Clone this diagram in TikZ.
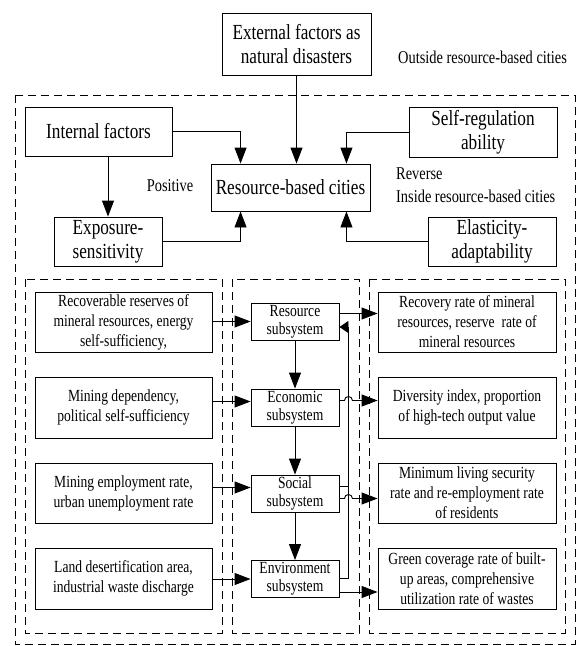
\documentclass[tikz,border=0pt]{standalone}
\usepackage{fontspec}
\setmainfont{Liberation Serif}[FakeStretch=0.8]
\usetikzlibrary{arrows.meta,calc}
\newcommand\myBig{\fontsize{21.5}{24}\selectfont}
\newcommand\mySmall{\fontsize{17}{20}\selectfont}
\newcommand\myMid{\fontsize{17}{18}\selectfont}
\newcommand\myLab{\fontsize{18}{20}\selectfont}
\begin{document}
\begin{tikzpicture}[x=1pt,y=-1pt,
  box/.style={draw, line width=0.9pt, inner sep=0pt, align=center},
  bigbox/.style={box, font=\myBig},
  sbox/.style={box, font=\mySmall, minimum width=177pt},
  rbox/.style={box, font=\mySmall, minimum width=178pt},
  mbox/.style={box, font=\myMid, minimum width=88pt, minimum height=37pt},
  arr/.style={line width=0.9pt, -{Triangle[length=16pt,width=12pt]}},
  fbarr/.style={line width=0.9pt, -{Triangle[length=9pt,width=12pt]}},
  ln/.style={line width=0.9pt},
  dbox/.style={draw, line width=0.9pt, dash pattern=on 8pt off 5pt},
  lab/.style={font=\myLab, inner sep=0pt}
]
\useasboundingbox (0,0) rectangle (578,646);

% dashed frames
\draw[dbox] (15,95) rectangle (575,644);
\draw[dbox] (25,279) rectangle (222,633);
\draw[dbox] (232,279) rectangle (359,633);
\draw[dbox] (369,279) rectangle (565,633);

% top part
\node[bigbox, minimum width=149pt, minimum height=62pt] (ext) at (296.5,44) {External factors as\\natural disasters};
\node[bigbox, minimum width=147pt, minimum height=49pt] (intf) at (98.5,131.5) {Internal factors};
\node[bigbox, minimum width=148pt, minimum height=50pt] (selfr) at (483,132) {Self-regulation\\ability};
\node[bigbox, minimum width=159pt, minimum height=47pt] (rbc) at (290.5,187.5) {Resource-based cities};
\node[bigbox, minimum width=108pt, minimum height=49pt] (expo) at (108,241.5) {Exposure-\\sensitivity};
\node[bigbox, minimum width=128pt, minimum height=49pt] (elas) at (492,241.5) {Elasticity-\\adaptability};

\node[lab] (pos) at (170,186) {Positive};
\node[lab, anchor=west] (rev) at (396,174) {Reverse};
\node[lab, anchor=west] (ins) at (396,196) {Inside resource-based cities};
\node[lab, anchor=west] (out) at (398,57) {Outside resource-based cities};

% left boxes
\node[sbox, minimum height=60pt] (l1) at (123.5,322) {Recoverable reserves of\\mineral resources, energy\\self-sufficiency,};
\node[sbox, minimum height=61pt] (l2) at (123.5,407.5) {Mining dependency,\\political self-sufficiency};
\node[sbox, minimum height=60pt] (l3) at (123.5,493) {Mining employment rate,\\urban unemployment rate};
\node[sbox, minimum height=61pt] (l4) at (123.5,578.5) {Land desertification area,\\industrial waste discharge};

% middle boxes
\node[mbox] (m1) at (295,321.5) {Resource\\subsystem};
\node[mbox] (m2) at (295,407.5) {Economic\\subsystem};
\node[mbox] (m3) at (295,493.5) {Social\\subsystem};
\node[mbox] (m4) at (295,579) {Environment\\subsystem};

% right boxes
\node[rbox, minimum height=60pt] (r1) at (467,322) {Recovery rate of mineral\\resources, reserve\ \ rate of\\mineral resources};
\node[rbox, minimum height=61pt] (r2) at (467,407.5) {Diversity index, proportion\\of high-tech output value};
\node[rbox, minimum height=60pt] (r3) at (467,493) {Minimum living security\\rate and re-employment rate\\of residents};
\node[rbox, minimum height=61pt] (r4) at (467,578.5) {Green coverage rate of built-\\up areas, comprehensive\\utilization rate of wastes};

% top connectors
\draw[arr] (ext.south) -- (ext.south |- rbc.north);
\coordinate (a1) at ($(rbc.north west)+(30,0)$);
\coordinate (a2) at ($(rbc.north east)+(-24,0)$);
\coordinate (a3) at ($(rbc.south west)+(30,0)$);
\coordinate (a4) at ($(rbc.south east)+(-24,0)$);
\draw[arr] (intf.east) -| (a1);
\draw[arr] (selfr.west) -| (a2);
\draw[arr] (expo.east) -| (a3);
\draw[arr] (elas.west) -| (a4);
\draw[arr] (intf.south -| expo.north) -- (expo.north);

% left to middle
\draw[arr] (l1.east |- m1.west) -- (m1.west);
\coordinate (p2) at ($(m2.west)+(0,-6)$);
\coordinate (p3) at ($(m3.west)+(0,-6)$);
\draw[arr] (l2.east |- p2) -- (p2);
\draw[arr] (l3.east |- p3) -- (p3);
\draw[arr] (l4.east |- m4.west) -- (m4.west);

% middle chain
\draw[arr] (m1.south) -- (m2.north);
\draw[arr] (m2.south) -- (m3.north);
\draw[arr] (m3.south) -- (m4.north);

% middle to right
\coordinate (o1) at ($(m1.east)+(0,-8)$);
\coordinate (o2) at ($(m2.east)+(0,-7)$);
\coordinate (o3) at ($(m3.east)+(0,5)$);
\coordinate (o4) at ($(m4.east)+(0,13)$);
\draw[arr] (o1) -- (o1 -| r1.west);
\draw[arr] (o2) -- ++(5,0) arc[start angle=180, end angle=0, radius=4pt] -- (o2 -| r2.west);
\draw[arr] (o3) -- ++(5,0) arc[start angle=180, end angle=0, radius=4pt] -- (o3 -| r3.west);
\draw[arr] (o4) -- (o4 -| r4.west);

% feedback bus
\coordinate (f4) at ($(m4.east)+(0,-1)$);
\coordinate (f1) at ($(m1.east)+(0,5.5)$);
\coordinate (s3) at ($(m3.east)+(0,-7.5)$);
\draw[fbarr] (f4) -- ++(9,0) |- (f1);
\draw[ln] (s3) -- ++(9,0);
\end{tikzpicture}
\end{document}
